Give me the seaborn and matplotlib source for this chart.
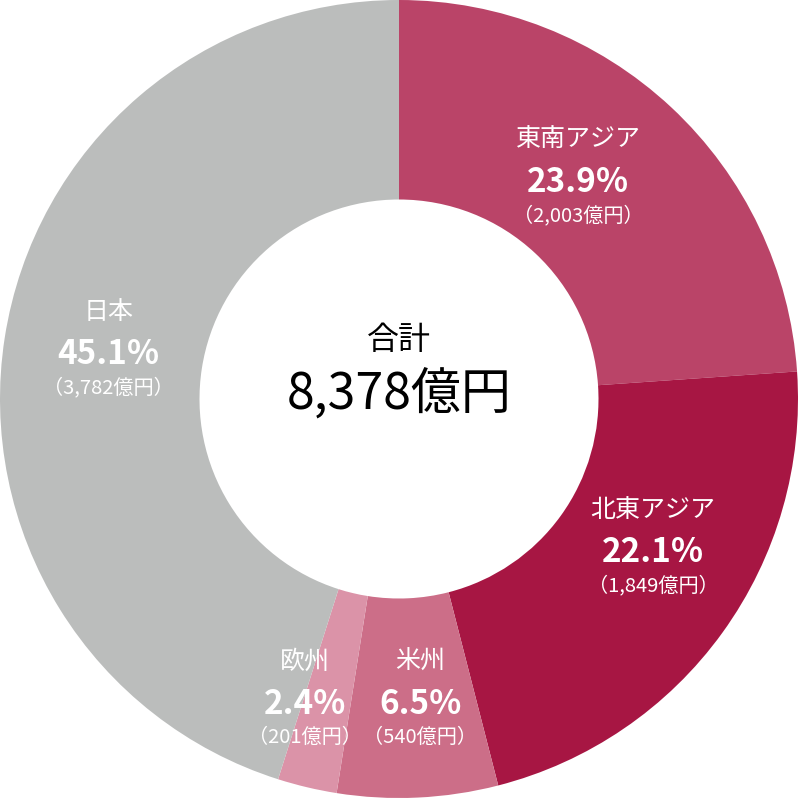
import matplotlib
matplotlib.use("Agg")
import matplotlib.pyplot as plt
import seaborn as sns

# --- data ---
regions = ["東南アジア", "北東アジア", "米州", "欧州", "日本"]
shares = [23.9, 22.1, 6.5, 2.4, 45.1]
amounts = ["2,003", "1,849", "540", "201", "3,782"]
total_label = "8,378億円"

colors = ["#BA4468", "#A71643", "#CC6E88", "#DB93A8", "#BBBDBC"]

# label anchor (x, y) in axis data units, per region
label_pos = [(0.449, 0.649), (0.637, -0.278), (0.053, -0.659), (-0.236, -0.659), (-0.729, 0.218)]

sns.set_theme(style="white")
plt.rcParams['font.family'] = ['Noto Sans CJK JP', 'DejaVu Sans']

fig, ax = plt.subplots(figsize=(7.98, 7.98), dpi=100)
fig.patch.set_facecolor("white")
ax.set_position([0, 0, 1, 1])

pal = sns.color_palette(colors)
ax.pie(shares, colors=pal, startangle=90, counterclock=False, radius=1.0,
       wedgeprops=dict(width=0.5, linewidth=0))
ax.set_xlim(-1, 1)
ax.set_ylim(-1, 1)
ax.set_aspect("equal")
ax.axis("off")

for name, pct, amt, (x, y) in zip(regions, shares, amounts, label_pos):
    ax.text(x, y, name, ha="center", va="center", color="white", fontsize=18)
    ax.text(x, y - 0.106, f"{pct:.1f}%", ha="center", va="center", color="white",
            fontsize=24, fontweight="bold")
    ax.text(x, y - 0.19, f"（{amt}億円）", ha="center", va="center", color="white",
            fontsize=14.5)

ax.text(0, 0.148, "合計", ha="center", va="center", color="black", fontsize=23)
ax.text(0, 0.01, total_label, ha="center", va="center", color="black", fontsize=36)

plt.savefig("out.png", dpi=100, facecolor="white")
